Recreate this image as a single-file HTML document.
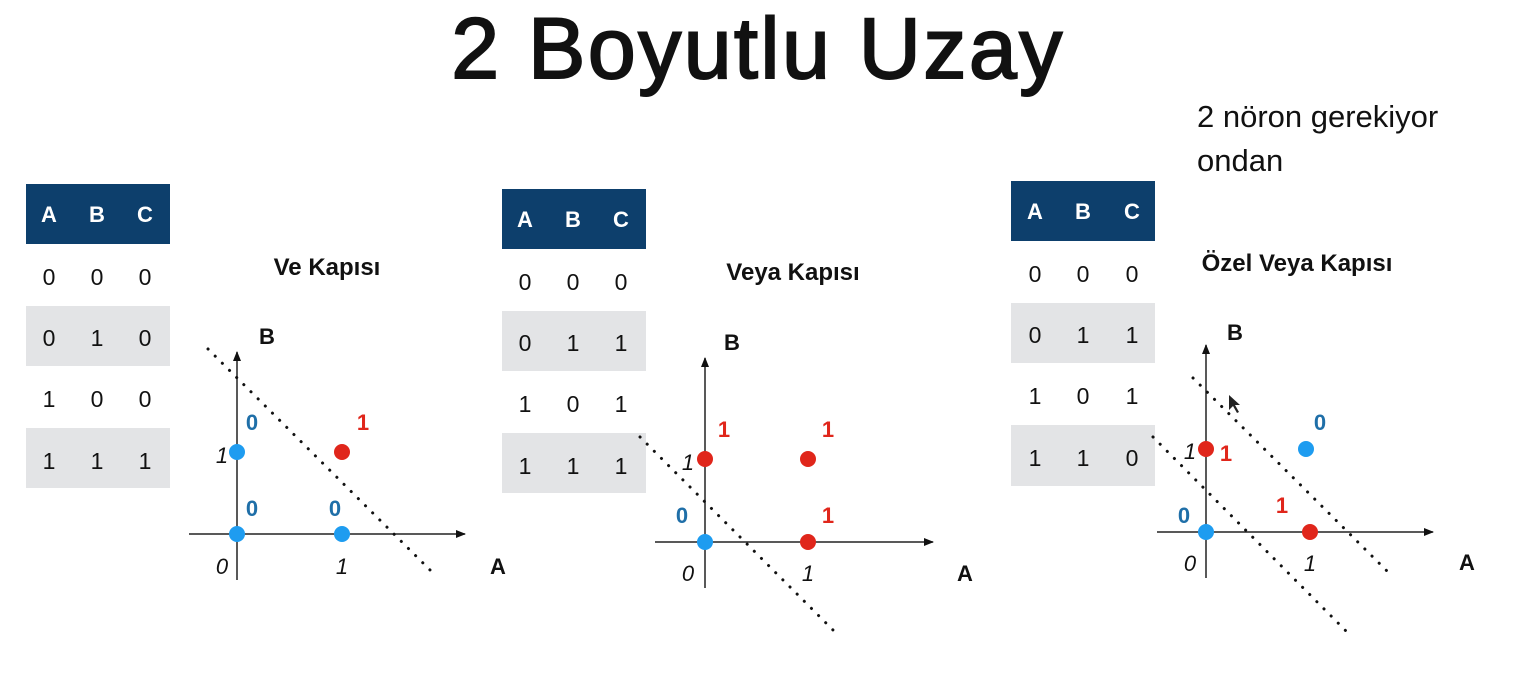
<!DOCTYPE html>
<html><head><meta charset="utf-8"><style>
html,body{margin:0;padding:0;background:#fff;}
svg{display:block;}
text{font-family:"Liberation Sans",sans-serif;}
</style></head><body>
<svg width="1517" height="691" viewBox="0 0 1517 691" xmlns="http://www.w3.org/2000/svg">
<defs>
<marker id="ar" markerWidth="10" markerHeight="10" refX="9" refY="5" orient="auto" markerUnits="userSpaceOnUse"><path d="M0,1 L10,5 L0,9 Z" fill="#111"/></marker>
</defs>
<text x="758" y="78" font-size="86" text-anchor="middle" fill="#111" stroke="#111" stroke-width="2" letter-spacing="2.5">2 Boyutlu Uzay</text>
<text x="1197" y="127" font-size="31" fill="#111">2 nöron gerekiyor</text>
<text x="1197" y="171" font-size="31" fill="#111">ondan</text>

<!-- Panel 1 -->
<g>
<rect x="26" y="184" width="144" height="60" fill="#0d3f6c"/>
<rect x="26" y="306" width="144" height="60" fill="#e3e4e6"/>
<rect x="26" y="428" width="144" height="60" fill="#e3e4e6"/>
<g font-size="22" font-weight="bold" fill="#fff" text-anchor="middle"><text x="49" y="222">A</text><text x="97" y="222">B</text><text x="145" y="222">C</text></g>
<g font-size="23" fill="#111" text-anchor="middle">
<text x="49" y="285">0</text><text x="97" y="285">0</text><text x="145" y="285">0</text>
<text x="49" y="346">0</text><text x="97" y="346">1</text><text x="145" y="346">0</text>
<text x="49" y="407">1</text><text x="97" y="407">0</text><text x="145" y="407">0</text>
<text x="49" y="469">1</text><text x="97" y="469">1</text><text x="145" y="469">1</text>
</g>
<text x="327" y="275" font-size="24" font-weight="bold" text-anchor="middle" fill="#111">Ve Kapısı</text>
<line x1="237" y1="580" x2="237" y2="352" stroke="#222" stroke-width="1.5" marker-end="url(#ar)"/>
<line x1="189" y1="534" x2="465" y2="534" stroke="#222" stroke-width="1.5" marker-end="url(#ar)"/>
<line x1="208" y1="349" x2="432" y2="572" stroke="#111" stroke-width="3" stroke-dasharray="0.1 10" stroke-linecap="round"/>
<text x="259" y="344" font-size="22" font-weight="bold" fill="#111">B</text>
<text x="490" y="574" font-size="22" font-weight="bold" fill="#111">A</text>
<g font-size="22" font-style="italic" fill="#111" text-anchor="middle"><text x="222" y="574">0</text><text x="342" y="574">1</text><text x="222" y="463">1</text></g>
<circle cx="237" cy="534" r="8" fill="#1e9cf0"/><circle cx="342" cy="534" r="8" fill="#1e9cf0"/><circle cx="237" cy="452" r="8" fill="#1e9cf0"/><circle cx="342" cy="452" r="8" fill="#e0261b"/>
<g font-size="22" font-weight="bold" text-anchor="middle">
<text x="252" y="430" fill="#1f6fa8">0</text><text x="363" y="430" fill="#e0261b">1</text><text x="252" y="516" fill="#1f6fa8">0</text><text x="335" y="516" fill="#1f6fa8">0</text></g>
</g>

<!-- Panel 2 -->
<g>
<rect x="502" y="189" width="144" height="60" fill="#0d3f6c"/>
<rect x="502" y="311" width="144" height="60" fill="#e3e4e6"/>
<rect x="502" y="433" width="144" height="60" fill="#e3e4e6"/>
<g font-size="22" font-weight="bold" fill="#fff" text-anchor="middle"><text x="525" y="227">A</text><text x="573" y="227">B</text><text x="621" y="227">C</text></g>
<g font-size="23" fill="#111" text-anchor="middle">
<text x="525" y="290">0</text><text x="573" y="290">0</text><text x="621" y="290">0</text>
<text x="525" y="351">0</text><text x="573" y="351">1</text><text x="621" y="351">1</text>
<text x="525" y="412">1</text><text x="573" y="412">0</text><text x="621" y="412">1</text>
<text x="525" y="474">1</text><text x="573" y="474">1</text><text x="621" y="474">1</text>
</g>
<text x="793" y="280" font-size="24" font-weight="bold" text-anchor="middle" fill="#111">Veya Kapısı</text>
<line x1="705" y1="588" x2="705" y2="358" stroke="#222" stroke-width="1.5" marker-end="url(#ar)"/>
<line x1="655" y1="542" x2="933" y2="542" stroke="#222" stroke-width="1.5" marker-end="url(#ar)"/>
<line x1="640" y1="437" x2="835" y2="632" stroke="#111" stroke-width="3" stroke-dasharray="0.1 10" stroke-linecap="round"/>
<text x="724" y="350" font-size="22" font-weight="bold" fill="#111">B</text>
<text x="957" y="581" font-size="22" font-weight="bold" fill="#111">A</text>
<g font-size="22" font-style="italic" fill="#111" text-anchor="middle"><text x="688" y="581">0</text><text x="808" y="581">1</text><text x="688" y="470">1</text></g>
<circle cx="705" cy="542" r="8" fill="#1e9cf0"/><circle cx="808" cy="542" r="8" fill="#e0261b"/><circle cx="705" cy="459" r="8" fill="#e0261b"/><circle cx="808" cy="459" r="8" fill="#e0261b"/>
<g font-size="22" font-weight="bold" text-anchor="middle">
<text x="724" y="437" fill="#e0261b">1</text><text x="828" y="437" fill="#e0261b">1</text><text x="682" y="523" fill="#1f6fa8">0</text><text x="828" y="523" fill="#e0261b">1</text></g>
</g>

<!-- Panel 3 -->
<g>
<rect x="1011" y="181" width="144" height="60" fill="#0d3f6c"/>
<rect x="1011" y="303" width="144" height="60" fill="#e3e4e6"/>
<rect x="1011" y="425" width="144" height="61" fill="#e3e4e6"/>
<g font-size="22" font-weight="bold" fill="#fff" text-anchor="middle"><text x="1035" y="219">A</text><text x="1083" y="219">B</text><text x="1132" y="219">C</text></g>
<g font-size="23" fill="#111" text-anchor="middle">
<text x="1035" y="282">0</text><text x="1083" y="282">0</text><text x="1132" y="282">0</text>
<text x="1035" y="343">0</text><text x="1083" y="343">1</text><text x="1132" y="343">1</text>
<text x="1035" y="404">1</text><text x="1083" y="404">0</text><text x="1132" y="404">1</text>
<text x="1035" y="466">1</text><text x="1083" y="466">1</text><text x="1132" y="466">0</text>
</g>
<text x="1297" y="271" font-size="24" font-weight="bold" text-anchor="middle" fill="#111">Özel Veya Kapısı</text>
<line x1="1206" y1="578" x2="1206" y2="345" stroke="#222" stroke-width="1.5" marker-end="url(#ar)"/>
<line x1="1157" y1="532" x2="1433" y2="532" stroke="#222" stroke-width="1.5" marker-end="url(#ar)"/>
<line x1="1193" y1="378" x2="1389" y2="573" stroke="#111" stroke-width="3" stroke-dasharray="0.1 10" stroke-linecap="round"/>
<line x1="1153" y1="437" x2="1347" y2="632" stroke="#111" stroke-width="3" stroke-dasharray="0.1 10" stroke-linecap="round"/>
<path d="M1229,395 L1229,410 L1233,406 L1237,413 L1239,412 L1235,405 L1240,405 Z" fill="#222"/>
<text x="1227" y="340" font-size="22" font-weight="bold" fill="#111">B</text>
<text x="1459" y="570" font-size="22" font-weight="bold" fill="#111">A</text>
<g font-size="22" font-style="italic" fill="#111" text-anchor="middle"><text x="1190" y="571">0</text><text x="1310" y="571">1</text><text x="1190" y="459">1</text></g>
<circle cx="1206" cy="532" r="8" fill="#1e9cf0"/><circle cx="1310" cy="532" r="8" fill="#e0261b"/><circle cx="1206" cy="449" r="8" fill="#e0261b"/><circle cx="1306" cy="449" r="8" fill="#1e9cf0"/>
<g font-size="22" font-weight="bold" text-anchor="middle">
<text x="1320" y="430" fill="#1f6fa8">0</text><text x="1226" y="461" fill="#e0261b">1</text><text x="1282" y="513" fill="#e0261b">1</text><text x="1184" y="523" fill="#1f6fa8">0</text></g>
</g>
</svg>
</body></html>
